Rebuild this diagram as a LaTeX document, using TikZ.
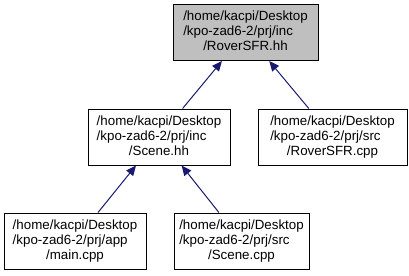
\documentclass[tikz,border=0pt]{standalone}
\usepackage{fontspec}
\setmainfont{Liberation Sans}
\usetikzlibrary{arrows.meta}
\definecolor{edgeblue}{HTML}{191970}
\definecolor{curfill}{HTML}{BFBFBF}
\newcommand{\filelabel}[3]{%
  \begin{tabular}{@{}l@{}}#1\\#2\\\multicolumn{1}{@{}c@{}}{#3}\end{tabular}}
\begin{document}
\begin{tikzpicture}[x=0.75pt,y=-0.75pt,
  filebox/.style={draw=black, line width=0.75pt, fill=white, inner sep=0pt,
    minimum height=42pt, font=\fontsize{10}{11.25}\selectfont},
  curbox/.style={filebox, fill=curfill},
  incedge/.style={draw=edgeblue, line width=0.75pt,
    -{Triangle[length=7.5pt,width=6.5pt]}}]
  \useasboundingbox (0,0) rectangle (409,275);
  \renewcommand{\arraystretch}{1}
  % header under inspection
  \node[curbox, minimum width=108.75pt] (roverhh) at (245.5,32.5)
    {\filelabel{/home/kacpi/Desktop}{/kpo-zad6-2/prj/inc}{/RoverSFR.hh}};
  % files including it
  \node[filebox, minimum width=106.5pt] (scenehh) at (159,137)
    {\filelabel{/home/kacpi/Desktop}{/kpo-zad6-2/prj/inc}{/Scene.hh}};
  \node[filebox, minimum width=111.75pt] (rovercpp) at (332.5,137)
    {\filelabel{/home/kacpi/Desktop}{/kpo-zad6-2/prj/src}{/RoverSFR.cpp}};
  \node[filebox, minimum width=106.5pt] (maincpp) at (75,241)
    {\filelabel{/home/kacpi/Desktop}{/kpo-zad6-2/prj/app}{/main.cpp}};
  \node[filebox, minimum width=101.25pt] (scenecpp) at (241.5,241)
    {\filelabel{/home/kacpi/Desktop}{/kpo-zad6-2/prj/src}{/Scene.cpp}};
  % include edges
  \draw[incedge] (scenehh) -- (roverhh);
  \draw[incedge] (rovercpp) -- (roverhh);
  \draw[incedge] (maincpp) -- (scenehh);
  \draw[incedge] (scenecpp) -- (scenehh);
\end{tikzpicture}
\end{document}
